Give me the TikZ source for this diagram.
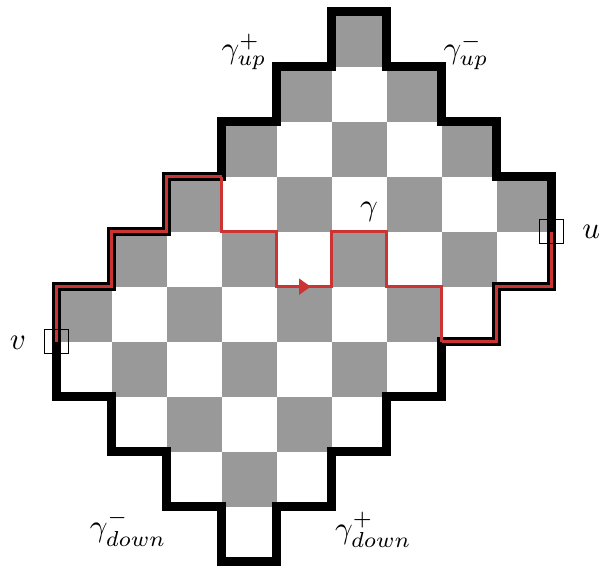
\documentclass[tikz,border=0pt]{standalone}
\usepackage{tikz}
\definecolor{cellgray}{RGB}{153,153,153}
\definecolor{gred}{RGB}{204,51,51}
\begin{document}
\begin{tikzpicture}[x=1cm,y=1cm,
  bound/.style={line width=4.5pt,line join=miter,draw=black},
  redpath/.style={draw=gred,line width=1.4pt,line join=miter},
  redbound/.style={draw=gred,line width=1.8pt,line join=miter},
  markbox/.style={draw=black,line width=0.6pt,minimum size=0.43cm,inner sep=0pt},
  lab/.style={scale=1.6,inner sep=0pt}]
\useasboundingbox (-1.0273,-0.0964) rectangle (9.9,10.2127);
% checkerboard cells
\foreach \y/\a/\b in {9/5/5,8/4/6,7/3/7,6/2/8,5/1/8,4/0/7,3/0/6,2/1/5,1/2/4,0/3/3}{
  \foreach \x in {\a,...,\b}{
    \pgfmathtruncatemacro\pty{mod(\x+\y,2)}
    \ifnum\pty=0 \fill[cellgray] (\x,\y) rectangle ++(1,1);\fi
  }
}
% boundary
\draw[bound] (0,3) -- (0,5) -- (1,5) -- (1,6) -- (2,6) -- (2,7) -- (3,7) -- (3,8) -- (4,8) -- (4,9) -- (5,9) -- (5,10)
  -- (6,10) -- (6,9) -- (7,9) -- (7,8) -- (8,8) -- (8,7) -- (9,7) -- (9,5) -- (8,5) -- (8,4) -- (7,4) -- (7,3)
  -- (6,3) -- (6,2) -- (5,2) -- (5,1) -- (4,1) -- (4,0) -- (3,0) -- (3,1) -- (2,1) -- (2,2) -- (1,2) -- (1,3) -- cycle;
% path gamma
\coordinate (v) at (0,4);
\coordinate (u) at (9,6);
\coordinate (g1) at (3,7);
\coordinate (g2) at (7,4);
\draw[redbound] (v) -- (0,5) -- (1,5) -- (1,6) -- (2,6) -- (2,7) -- (g1);
\draw[redpath] (g1) -- (3,6) -- (4,6) -- (4,5) -- (5,5)
  -- (5,6) -- (6,6) -- (6,5) -- (7,5) -- (g2);
\draw[redbound] (g2) -- (8,4) -- (8,5) -- (9,5) -- (u);
\fill[gred] (4.41,5.15) -- (4.62,5) -- (4.41,4.85) -- cycle;
% marker boxes
\node[markbox] (vbox) at (v) {};
\node[markbox] (ubox) at (u) {};
% labels
\node[lab] (gupplus) at (3.41,9.27) {$\gamma^+_{up}$};
\node[lab] (gupminus) at (7.445,9.27) {$\gamma^-_{up}$};
\node[lab] (gam) at (5.68,6.36) {$\gamma$};
\node[lab] (ulab) at (9.72,5.99) {$u$};
\node[lab] (vlab) at (-0.70,3.98) {$v$};
\node[lab] (gdownminus) at (1.30,0.61) {$\gamma^-_{down}$};
\node[lab] (gdownplus) at (5.76,0.58) {$\gamma^+_{down}$};
\end{tikzpicture}
\end{document}
